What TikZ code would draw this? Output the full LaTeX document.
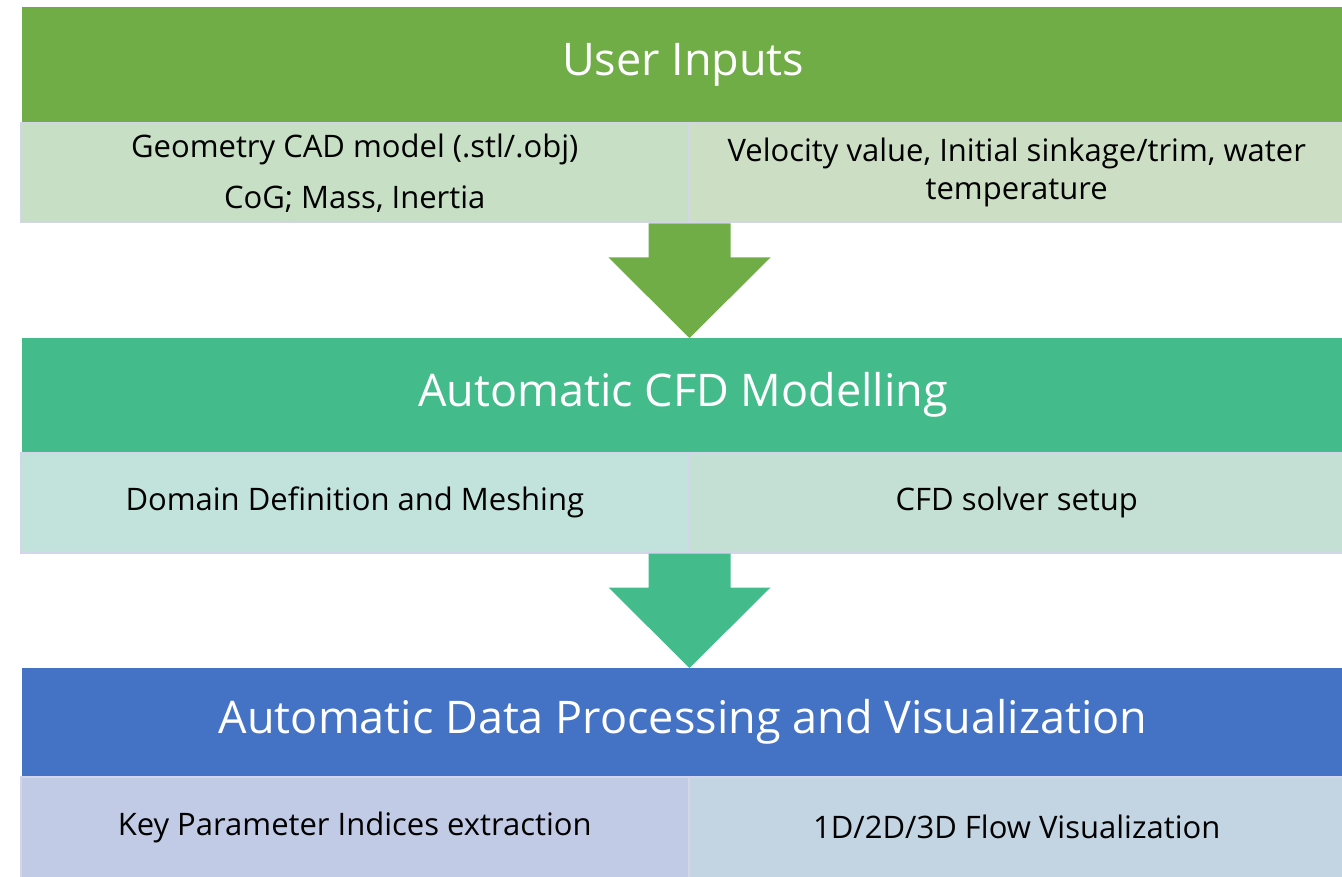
\documentclass[tikz,border=0pt]{standalone}
\usepackage{fontspec}
\setmainfont{Open Sans}
\usetikzlibrary{calc}
\definecolor{headA}{HTML}{70AD47}
\definecolor{headB}{HTML}{43BB8B}
\definecolor{headC}{HTML}{4472C4}
\definecolor{subAL}{HTML}{C6DFC5}
\definecolor{subAR}{HTML}{CCDFC4}
\definecolor{subBL}{HTML}{C2E2DC}
\definecolor{subBR}{HTML}{C4E0D4}
\definecolor{subCL}{HTML}{C1CBE5}
\definecolor{subCR}{HTML}{C3D4E3}
\definecolor{edge}{HTML}{D3D6EA}
\begin{document}
\begin{tikzpicture}[x=1pt,y=-1pt,
  header/.style={anchor=north west, inner sep=0pt, minimum width=1322pt,
    text=white, font=\fontsize{45}{52}\selectfont},
  cell/.style={anchor=north west, inner sep=0pt, draw=edge, line width=1.5pt,
    minimum height=100pt, align=center, text=black,
    font=\fontsize{31}{38}\selectfont},
  leftcell/.style={cell, minimum width=668pt},
  rightcell/.style={cell, minimum width=656pt},
]
\useasboundingbox (0,0) rectangle (1342,877);

% tier 1: user inputs
\node[header, fill=headA, minimum height=115pt] (inputs) at (22,7) {User Inputs};
\node[leftcell, fill=subAL] (geo) at (20,122)
  {Geometry CAD model (.stl/.obj)\\[13pt]CoG; Mass, Inertia};
\node[rightcell, fill=subAR] (flow) at (688,122)
  {Velocity value, Initial sinkage/trim, water\\temperature};

% tier 2: CFD modelling
\node[header, fill=headB, minimum height=114pt] (cfd) at (22,338) {Automatic CFD Modelling};
\node[leftcell, fill=subBL] (mesh) at (20,452) {Domain Definition and Meshing};
\node[rightcell, fill=subBR] (solver) at (688,452) {CFD solver setup};

% tier 3: data processing
\node[header, fill=headC, minimum height=108pt] (post) at (22,668)
  {Automatic Data Processing and Visualization};
\node[leftcell, fill=subCL, minimum height=101pt] (kpi) at (20,776) {Key Parameter Indices extraction};
\node[rightcell, fill=subCR, minimum height=101pt] (vis) at (688,776) {1D/2D/3D Flow Visualization};

% block arrows between tiers
\fill[headA] ($(geo.south east)+(-41,0)$) -- ++(82,0) -- ++(0,34) -- ++(40,0)
  -- (geo.south east |- cfd.north) -- ($(geo.south east)+(-81,34)$) -- ++(40,0) -- cycle;
\fill[headB] ($(mesh.south east)+(-41,0)$) -- ++(82,0) -- ++(0,34) -- ++(40,0)
  -- (mesh.south east |- post.north) -- ($(mesh.south east)+(-81,34)$) -- ++(40,0) -- cycle;
\end{tikzpicture}
\end{document}
